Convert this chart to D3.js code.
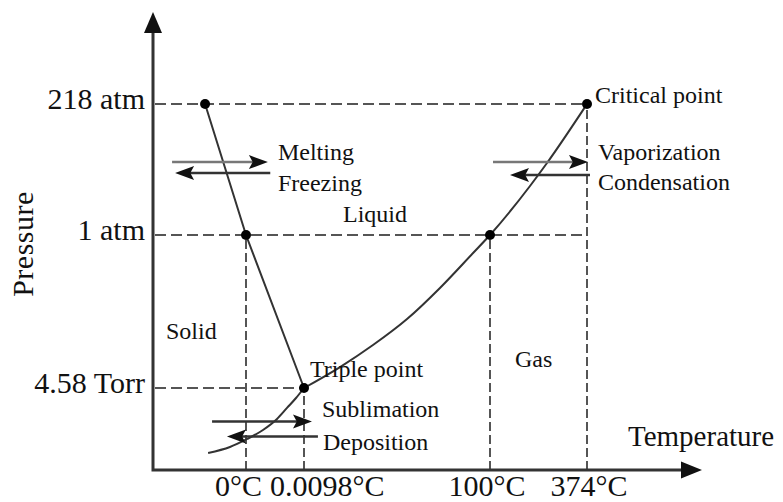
<!DOCTYPE html>
<html>
<head>
<meta charset="utf-8">
<script src="https://cdn.jsdelivr.net/npm/d3@7"></script>
<style>
  html, body { margin: 0; padding: 0; background: #fff; }
  svg { display: block; }
  svg text { font-family: "Liberation Serif", "Times New Roman", serif; }
</style>
</head>
<body>
<svg id="chart" width="783" height="502"></svg>
<script>
// Axis ticks (temperature in °C, pressure in atm)
const tempTicks = [0, 0.0098, 100, 374];
const tempTickLabels = ["0°C", "0.0098°C", "100°C", "374°C"];
const pressureTicks = [0.006026, 1, 218];
const pressureTickLabels = ["4.58 Torr", "1 atm", "218 atm"];

// Solid–liquid boundary
const meltingT = [-17.6, 0, 0.0098];
const meltingP = [218, 1, 0.006026];

// Liquid–gas boundary, triple point up to the critical point
const vaporT = [0.0098, 19.4, 37.1, 55.4, 73.1, 90.9, 100, 213, 261, 374];
const vaporP = [0.006026, 0.142, 0.285, 0.454, 0.656, 0.883, 1, 82.2, 120.3, 218];

// Solid–gas boundary, ending at the triple point
const sublimT = [-16.3, -6.9, 0.0002, 0.00287, 0.00524, 0.00693, 0.00845, 0.0098];
const sublimP = [0.00125, 0.00169, 0.00228, 0.00294, 0.00375, 0.00456, 0.00529, 0.006026];

// Marked states: top of melting line, normal melting point, triple point,
// normal boiling point, critical point
const pointT = [-17.6, 0, 0.0098, 100, 374];
const pointP = [218, 1, 0.006026, 1, 218];

// Transition arrows: start and end temperature at a given pressure
const arrowFromT = [-31.8, 0.0041, 108.5, 382.5, -14.6, 7.5];
const arrowToT   = [0.0037, -30.5, 376.8, 156.5, 4.3, -8.2];
const arrowP     = [121.9, 103.7, 121.9, 100.4, 0.00357, 0.00246];

// Region and transition labels
const labelText = ["Melting", "Freezing", "Vaporization", "Condensation", "Critical point",
                   "Liquid", "Solid", "Triple point", "Gas", "Sublimation", "Deposition"];
const labelT = [0.0054, 0.0054, 405, 405, 396.7, 21.0, -34.4, 3.2, 170.6, 9.7, 10.2];
const labelP = [125.2, 73.9, 125.2, 75.5, 219.1, 22.5, 0.322, 0.077, 0.142, 0.00387, 0.00149];

const serif = "Liberation Serif";
const svg = d3.select("#chart");

// Schematic (piecewise) scales: each labelled state gets its own stretch of axis
const x = d3.scaleLinear()
  .domain([-40, 0, 0.0098, 100, 374, 700])
  .range([153, 246, 304, 490, 587, 702]);
const y = d3.scaleLinear()
  .domain([0, 0.006026, 1, 218, 370])
  .range([470, 388, 235, 104, 12]);

const ink = "#111";
const lineCol = "#333";
const dashCol = "#555";

// Dashed guide lines from the axes to each marked state
const tMin = x.domain()[0];
const pMin = y.domain()[0];
const hGuides = [
  { p: 218, tEnd: 374 },
  { p: 1, tEnd: 374 },
  { p: 0.006026, tEnd: 0.0098 }
];
const vGuides = [
  { t: 0, pEnd: 1 },
  { t: 0.0098, pEnd: 0.006026 },
  { t: 100, pEnd: 1 },
  { t: 374, pEnd: 218 }
];
svg.append("g").selectAll("line").data(hGuides).join("line")
  .attr("x1", x(tMin) + 2).attr("x2", d => x(d.tEnd))
  .attr("y1", d => y(d.p)).attr("y2", d => y(d.p))
  .attr("stroke", dashCol).attr("stroke-width", 2.2)
  .attr("stroke-dasharray", "11,5");
svg.append("g").selectAll("line").data(vGuides).join("line")
  .attr("x1", d => x(d.t)).attr("x2", d => x(d.t))
  .attr("y1", y(pMin)).attr("y2", d => y(d.pEnd))
  .attr("stroke", dashCol).attr("stroke-width", 2)
  .attr("stroke-dasharray", "9,4");

// Phase boundaries
const zip = (ts, ps) => ts.map((t, i) => [t, ps[i]]);
const straight = d3.line().x(d => x(d[0])).y(d => y(d[1]));
const smooth = d3.line().x(d => x(d[0])).y(d => y(d[1])).curve(d3.curveMonotoneX);

svg.append("path").attr("d", straight(zip(meltingT, meltingP)))
  .attr("fill", "none").attr("stroke", lineCol).attr("stroke-width", 2);
svg.append("path").attr("d", smooth(zip(vaporT, vaporP)))
  .attr("fill", "none").attr("stroke", lineCol).attr("stroke-width", 2);
svg.append("path").attr("d", smooth(zip(sublimT, sublimP)))
  .attr("fill", "none").attr("stroke", lineCol).attr("stroke-width", 2);

// Axes with arrowheads
const x0 = x(tMin), y0 = y(pMin);
const xEnd = x.range()[x.range().length - 1];
const yEnd = y.range()[y.range().length - 1];
const axisG = svg.append("g");
axisG.append("path")
  .attr("d", `M${x0},${yEnd + 18}V${y0}H${xEnd - 18}`)
  .attr("fill", "none").attr("stroke", "#333").attr("stroke-width", 3);
axisG.append("path")
  .attr("d", `M${x0},${yEnd}L${x0 - 9},${yEnd + 21}L${x0 + 9},${yEnd + 21}Z`)
  .attr("fill", "#111");
axisG.append("path")
  .attr("d", `M${xEnd},${y0}L${xEnd - 21},${y0 - 8.5}L${xEnd - 21},${y0 + 8.5}Z`)
  .attr("fill", "#111");

// Transition arrows
const arrowG = svg.append("g");
arrowFromT.forEach((t0, i) => {
  const xa = x(t0), xb = x(arrowToT[i]), yy = y(arrowP[i]);
  const dir = Math.sign(xb - xa);
  const headLen = 19, headHalf = 7;
  const light = (i === 0 || i === 2);
  arrowG.append("line")
    .attr("x1", xa).attr("x2", xb - dir * headLen * 0.6)
    .attr("y1", yy).attr("y2", yy)
    .attr("stroke", light ? "#777" : "#333").attr("stroke-width", 2.5);
  arrowG.append("path")
    .attr("d", `M${xb},${yy}L${xb - dir * headLen},${yy - headHalf}L${xb - dir * headLen * 0.8},${yy}L${xb - dir * headLen},${yy + headHalf}Z`)
    .attr("fill", "#111");
});

// Marked states
svg.append("g").selectAll("circle").data(zip(pointT, pointP)).join("circle")
  .attr("cx", d => x(d[0])).attr("cy", d => y(d[1])).attr("r", 5)
  .attr("fill", "#000");

// Tick labels
svg.append("g").selectAll("text").data(pressureTicks).join("text")
  .attr("x", x0 - 8).attr("y", d => y(d) + 5)
  .attr("text-anchor", "end")
  .attr("font-family", serif)
  .attr("font-size", 30).attr("fill", ink)
  .text((d, i) => pressureTickLabels[i]);

const xTickPlace = [
  { anchor: "end", dx: 16 },
  { anchor: "start", dx: -34 },
  { anchor: "middle", dx: -3 },
  { anchor: "middle", dx: 2 }
];
svg.append("g").selectAll("text").data(tempTicks).join("text")
  .attr("x", (d, i) => x(d) + xTickPlace[i].dx)
  .attr("y", y0 + 26)
  .attr("text-anchor", (d, i) => xTickPlace[i].anchor)
  .attr("font-family", serif)
  .attr("font-size", 30).attr("fill", ink)
  .text((d, i) => tempTickLabels[i]);

// Axis titles
svg.append("text")
  .attr("transform", "translate(33,244) rotate(-90)")
  .attr("text-anchor", "middle")
  .attr("font-family", serif)
  .attr("font-size", 30).attr("fill", ink)
  .attr("letter-spacing", 0.5)
  .text("Pressure");
svg.append("text")
  .attr("x", 628).attr("y", 446)
  .attr("font-family", serif)
  .attr("font-size", 29).attr("fill", ink)
  .text("Temperature");

// Region and transition labels: set at 30px and scaled down to 24px
svg.append("g").selectAll("text").data(labelText).join("text")
  .attr("transform", (d, i) => `translate(${x(labelT[i])},${y(labelP[i])}) scale(0.8)`)
  .attr("font-family", serif)
  .attr("font-size", 30).attr("fill", ink)
  .text(d => d);
</script>
</body>
</html>
